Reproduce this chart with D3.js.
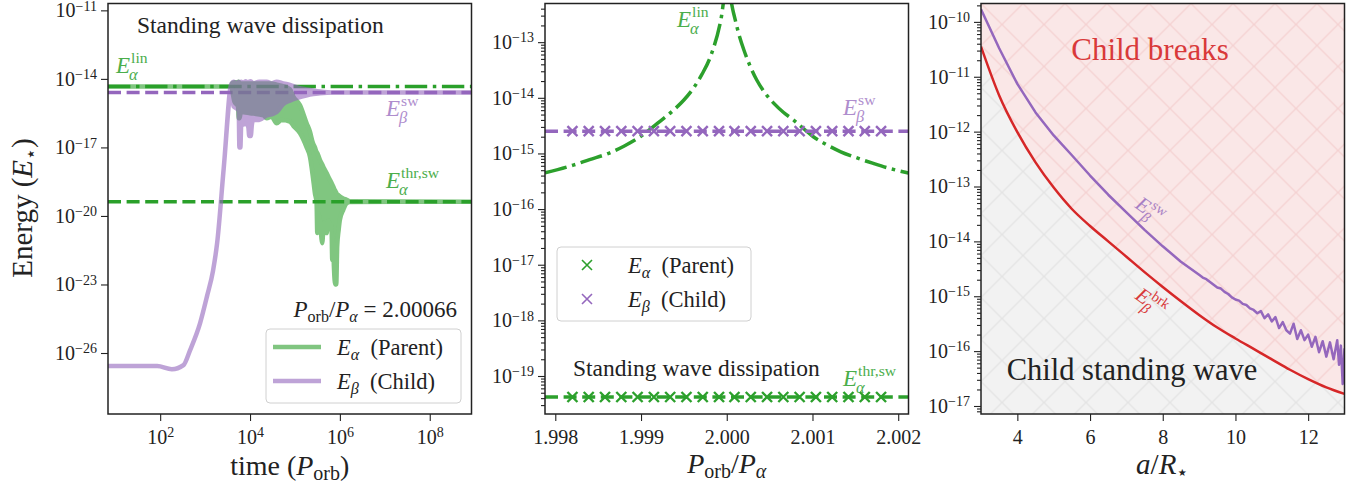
<!DOCTYPE html>
<html>
<head>
<meta charset="utf-8">
<script src="https://cdn.jsdelivr.net/npm/d3@7"></script>
<style>
  body { margin: 0; background: #fff; }
  svg text { font-family: "Liberation Serif", "DejaVu Serif", serif; }
</style>
</head>
<body>
<svg id="chart"></svg>
<script>
// ---- values (energies as log10 E) ----
// panel 1 : time series, rows = [t, upper, lower]
const timeTicks = [1e2, 1e4, 1e6, 1e8];
const energyTicks1 = [1e-26, 1e-23, 1e-20, 1e-17, 1e-14, 1e-11];
const childBand = [
  [6.9, -26.57, -26.57], [86, -26.57, -26.57], [182, -26.71, -26.71], [330, -26.53, -26.53],
  [464, -25.87, -25.87], [774, -24.69, -24.69], [1108, -23.5, -23.5], [1500, -22.4, -22.4],
  [1850, -21.2, -21.2], [2600, -17.9, -17.9], [3900, -14.2, -14.2],
  [4270, -14.12, -15.2], [5060, -14.2, -15.3], [5600, -14.12, -15.4], [5800, -14.2, -17.0],
  [6100, -14.15, -17.0], [6400, -14.12, -15.9], [6900, -14.2, -16.0], [8000, -14.1, -15.95],
  [9150, -14.2, -16.1], [9600, -14.12, -16.5], [10400, -14.1, -16.5], [11000, -14.15, -16.0],
  [11800, -14.2, -15.8], [16000, -14.12, -15.8], [23500, -14.12, -15.6], [30000, -14.2, -15.55],
  [39200, -14.12, -15.45], [55000, -14.2, -15.1], [77400, -14.26, -14.95], [129000, -14.41, -14.8],
  [215000, -14.48, -14.68], [359000, -14.55, -14.63], [710000, -14.6, -14.6], [8.5e8, -14.6, -14.6]
];
const parentBand = [
  [6.9, -14.337, -14.337], [3900, -14.337, -14.337], [3950, -14.2, -14.4], [4500, -14.15, -15.0],
  [5400, -14.15, -15.2], [5600, -14.12, -15.72], [5900, -14.2, -15.72], [6200, -14.2, -15.45],
  [10000, -14.2, -15.5], [20000, -14.2, -15.6], [23500, -14.2, -15.72], [30000, -14.2, -15.65],
  [39200, -14.25, -15.94], [50000, -14.3, -15.8], [77400, -14.45, -15.87], [91800, -14.77, -16.05],
  [129000, -15.14, -16.37], [182000, -15.94, -17.0], [215000, -16.3, -17.4], [251000, -16.81, -18.3],
  [278000, -17.0, -19.0], [303000, -17.2, -19.43], [314000, -17.25, -20.75], [330000, -17.35, -19.9],
  [359000, -17.54, -20.2], [405000, -17.75, -21.19], [440000, -17.9, -20.3], [506000, -18.12, -20.75],
  [560000, -18.3, -20.2], [600000, -18.42, -20.5], [650000, -18.55, -20.4], [676000, -18.62, -21.92],
  [710000, -18.71, -21.2], [736000, -18.78, -22.2], [790000, -18.9, -23.0], [830000, -18.98, -23.0],
  [871000, -19.05, -21.33], [940000, -19.1, -20.6], [1e6, -19.15, -20.17], [1.19e6, -19.24, -19.73],
  [1.41e6, -19.29, -19.45], [1.66e6, -19.36, -19.39], [8.5e8, -19.377, -19.377]
];
const logElin = -14.337, logEsw = -14.6, logEthr = -19.377;

// panel 2 : scan in P_orb / P_alpha
const ratioTicks = [1.998, 1.999, 2.000, 2.001, 2.002];
const energyTicks2 = [1e-19, 1e-18, 1e-17, 1e-16, 1e-15, 1e-14, 1e-13];
const ratioRuns = [1.9982, 1.99839, 1.99858, 1.99877, 1.99896, 1.99915, 1.99934, 1.99953, 1.99972, 1.99991,
  2.00009, 2.00028, 2.00047, 2.00066, 2.00085, 2.00104, 2.00123, 2.00142, 2.00161, 2.0018];
const linCurve = [
  [1.99788, -15.35], [1.99821, -15.21], [1.99840, -15.11], [1.99860, -15.01], [1.99880, -14.87],
  [1.99899, -14.70], [1.99919, -14.46], [1.99938, -14.22], [1.99950, -14.04], [1.99961, -13.83],
  [1.99971, -13.58], [1.99981, -13.26], [1.99993, -12.61], [2.00000, -12.0], [2.00008, -12.48],
  [2.00014, -12.85], [2.00020, -13.14], [2.00027, -13.42], [2.00035, -13.68], [2.00045, -13.92],
  [2.00055, -14.10], [2.00066, -14.26], [2.00078, -14.40], [2.00090, -14.56], [2.00101, -14.70],
  [2.00115, -14.83], [2.00133, -14.97], [2.00150, -15.07], [2.00171, -15.18], [2.00190, -15.27],
  [2.00212, -15.35]
];

// panel 3 : separation a / R*
const sepTicks = [4, 6, 8, 10, 12];
const energyTicks3 = [1e-17, 1e-16, 1e-15, 1e-14, 1e-13, 1e-12, 1e-11, 1e-10];
const breakCurve = [
  [3.0, -10.45], [3.5, -11.34], [4.0, -12.01], [4.5, -12.56], [5.0, -13.02], [5.5, -13.41],
  [6.0, -13.72], [6.5, -14.00], [7.0, -14.28], [7.5, -14.56], [8.0, -14.83], [8.5, -15.09],
  [9.0, -15.34], [9.5, -15.57], [10.0, -15.77], [10.5, -15.96], [11.0, -16.15], [11.5, -16.34],
  [12.0, -16.51], [12.5, -16.66], [13.0, -16.78]
];
const swCurve = [
  [3.0, -9.77], [3.5, -10.48], [4.0, -11.13], [4.5, -11.65], [5.0, -12.07], [5.5, -12.43],
  [6.0, -12.80], [6.5, -13.15], [7.0, -13.47], [7.5, -13.79], [8.0, -14.09], [8.5, -14.37],
  [9.0, -14.61], [9.1, -14.66], [9.2, -14.69], [9.3, -14.74], [9.4, -14.79], [9.5, -14.84],
  [9.6, -14.86], [9.7, -14.92], [9.8, -14.96], [9.9, -15.02], [10.0, -15.06], [10.1, -15.08],
  [10.2, -15.14], [10.3, -15.16], [10.4, -15.22], [10.5, -15.25], [10.6, -15.31], [10.7, -15.27],
  [10.8, -15.40], [10.9, -15.33], [11.0, -15.46], [11.1, -15.38], [11.2, -15.58], [11.3, -15.47],
  [11.4, -15.62], [11.5, -15.68], [11.6, -15.50], [11.7, -15.78], [11.8, -15.62], [11.9, -15.80],
  [12.0, -15.70], [12.1, -15.92], [12.2, -15.74], [12.3, -16.02], [12.4, -15.82], [12.5, -16.10],
  [12.6, -15.84], [12.7, -16.15], [12.8, -15.80], [12.85, -16.25], [12.9, -15.90], [12.95, -16.60],
  [13.0, -15.95]
];

// ---- layout ----
const width = 1369, height = 491;
const green = "#2ca02c", purple = "#9467bd", red = "#d62728", ink = "#222";
const pTop = 3.5, pH = 410.5, pW = 363.5;
const lefts = [108, 545, 981];
const dashed = "13,5.6", dashdot = "22.4,5.6,3.5,5.6";

const svg = d3.select("#chart").attr("width", width).attr("height", height);
const defs = svg.append("defs");

function makePanel(left, id) {
  defs.append("clipPath").attr("id", id).append("rect").attr("width", pW).attr("height", pH);
  const g = svg.append("g").attr("transform", `translate(${left},${pTop})`);
  const plot = g.append("g").attr("clip-path", `url(#${id})`);
  return { g, plot };
}

function minorLog(scale) {
  const [lo, hi] = scale.domain();
  const out = [];
  for (let e = Math.floor(Math.log10(lo)); e <= Math.ceil(Math.log10(hi)); e++)
    for (let m = 2; m < 10; m++) { const v = m * 10 ** e; if (v > lo && v < hi) out.push(v); }
  return out;
}

function styleAxis(ax) {
  ax.select(".domain").remove();
  ax.attr("font-family", null).attr("font-size", 20);
  ax.selectAll(".tick line").attr("stroke", ink).attr("stroke-width", 1.1);
  ax.selectAll(".tick text").attr("fill", ink);
}

function powLabels(ax) {
  ax.selectAll(".tick text").each(function (d) {
    const t = d3.select(this).text(null);
    const e = Math.round(Math.log10(d));
    t.append("tspan").text("10");
    t.append("tspan").attr("dy", "-0.48em").attr("font-size", 14).text(e < 0 ? "\u2212" + (-e) : String(e));
  });
}

function yAxis(g, y, ticks, minor) {
  if (minor) {
    const m = g.append("g").call(d3.axisLeft(y).tickValues(minorLog(y)).tickSize(4).tickFormat(""));
    styleAxis(m);
  }
  const ax = g.append("g").call(d3.axisLeft(y).tickValues(ticks).tickSize(7).tickPadding(4).tickFormat(() => ""));
  styleAxis(ax);
  powLabels(ax);
}

function frame(g) {
  g.append("rect").attr("width", pW).attr("height", pH)
    .attr("fill", "none").attr("stroke", ink).attr("stroke-width", 1.5);
}

// italic E with sub / superscripts
function mathE(x, y, sub, sup, color, opts = {}) {
  const size = opts.size || 23;
  const g = svg.append("g")
    .attr("transform", `translate(${x},${y}) rotate(${opts.rotate || 0})`)
    .attr("fill", color).attr("opacity", opts.opacity == null ? 1 : opts.opacity);
  const e = g.append("text").attr("font-style", "italic").attr("font-size", size).text("E");
  const w = e.node().getComputedTextLength();
  if (sup) g.append("text").attr("x", w + 1).attr("y", -size * 0.42).attr("font-size", size * 0.68).text(sup);
  if (sub) g.append("text").attr("x", w - 1).attr("y", size * 0.32).attr("font-size", size * 0.72)
    .attr("font-style", "italic").text(sub);
  return g;
}

function legendEntry(x, y, sub, name, size) {
  const t = svg.append("text").attr("x", x).attr("y", y).attr("font-size", size).attr("fill", ink);
  t.append("tspan").attr("font-style", "italic").text("E");
  t.append("tspan").attr("font-style", "italic").attr("font-size", size * 0.72).attr("dy", 5).text(sub);
  t.append("tspan").attr("dy", -5).text("\u2002(" + name + ")");
}

const cross = "M-5,-5L5,5M-5,5L5,-5";

// ================= panel 1 =================
{
  const { g, plot } = makePanel(lefts[0], "clip1");
  const x = d3.scaleLog().domain([6.9, 8.5e8]).range([0, pW]);
  const y = d3.scaleLog().domain([10 ** -28.67, 10 ** -10.70]).range([pH, 0]);

  // reference levels
  [[logElin, green, dashdot], [logEsw, purple, dashed], [logEthr, green, dashed]].forEach(([v, c, d]) => {
    plot.append("line").attr("x1", 0).attr("x2", pW).attr("y1", y(10 ** v)).attr("y2", y(10 ** v))
      .attr("stroke", c).attr("stroke-width", 3.5).attr("stroke-dasharray", d);
  });

  const band = d3.area().curve(d3.curveMonotoneX)
    .x(d => x(d[0])).y0(d => y(10 ** d[2])).y1(d => y(10 ** d[1]));
  [[parentBand, green], [childBand, purple]].forEach(([rows, c]) => {
    plot.append("g").attr("opacity", 0.6).append("path").attr("d", band(rows))
      .attr("fill", c).attr("stroke", c).attr("stroke-width", 4.5).attr("stroke-linejoin", "round");
  });

  const xa = g.append("g").attr("transform", `translate(0,${pH})`)
    .call(d3.axisBottom(x).tickValues(timeTicks).tickSize(7).tickPadding(9).tickFormat(() => ""));
  styleAxis(xa);
  powLabels(xa);
  yAxis(g, y, energyTicks1, false);
  frame(g);
}

// ================= panel 2 =================
{
  const { g, plot } = makePanel(lefts[1], "clip2");
  const x = d3.scaleLinear().domain([1.99788, 2.00212]).range([0, pW]);
  const y = d3.scaleLog().domain([10 ** -19.683, 10 ** -12.305]).range([pH, 0]);

  plot.append("path").attr("d", d3.line().curve(d3.curveMonotoneX).x(d => x(d[0])).y(d => y(10 ** d[1]))(linCurve))
    .attr("fill", "none").attr("stroke", green).attr("stroke-width", 3.5).attr("stroke-dasharray", dashdot);
  [[logEsw, purple], [logEthr, green]].forEach(([v, c]) => {
    plot.append("line").attr("x1", 0).attr("x2", pW).attr("y1", y(10 ** v)).attr("y2", y(10 ** v))
      .attr("stroke", c).attr("stroke-width", 3.5).attr("stroke-dasharray", dashed);
    plot.selectAll(null).data(ratioRuns).enter().append("path")
      .attr("transform", d => `translate(${x(d)},${y(10 ** v)})`).attr("d", cross)
      .attr("stroke", c).attr("stroke-width", 2.4).attr("fill", "none");
  });

  const xa = g.append("g").attr("transform", `translate(0,${pH})`)
    .call(d3.axisBottom(x).tickValues(ratioTicks).tickSize(7).tickPadding(9).tickFormat(d3.format(".3f")));
  styleAxis(xa);
  yAxis(g, y, energyTicks2, true);
  frame(g);
}

// ================= panel 3 =================
{
  const { g, plot } = makePanel(lefts[2], "clip3");
  const x = d3.scaleLinear().domain([3, 13]).range([0, pW]);
  const y = d3.scaleLog().domain([10 ** -17.146, 10 ** -9.665]).range([pH, 0]);

  const hatch = (id, bg, fg) => {
    const p = defs.append("pattern").attr("id", id).attr("patternUnits", "userSpaceOnUse")
      .attr("width", 42).attr("height", 42);
    p.append("rect").attr("width", 42).attr("height", 42).attr("fill", bg);
    p.append("path").attr("d", "M0,0L42,42M42,0L0,42").attr("stroke", fg).attr("stroke-width", 1.3);
  };
  hatch("hatchGrey", "#f2f2f2", "#e4e4e4");
  hatch("hatchPink", "#fae7e7", "#f5d2d2");

  const ax = d => x(d[0]), ay = d => y(10 ** d[1]);
  plot.append("path").attr("d", d3.area().curve(d3.curveMonotoneX).x(ax).y0(pH).y1(ay)(breakCurve))
    .attr("fill", "url(#hatchGrey)");
  plot.append("path").attr("d", d3.area().curve(d3.curveMonotoneX).x(ax).y0(0).y1(ay)(breakCurve))
    .attr("fill", "url(#hatchPink)");
  plot.append("path").attr("d", d3.line().curve(d3.curveMonotoneX).x(ax).y(ay)(breakCurve))
    .attr("fill", "none").attr("stroke", red).attr("stroke-width", 2.5);
  plot.append("path").attr("d", d3.line().x(ax).y(ay)(swCurve))
    .attr("fill", "none").attr("stroke", purple).attr("stroke-width", 2.5).attr("stroke-linejoin", "round");

  const xa = g.append("g").attr("transform", `translate(0,${pH})`)
    .call(d3.axisBottom(x).tickValues(sepTicks).tickSize(7).tickPadding(9).tickFormat(d3.format("d")));
  styleAxis(xa);
  yAxis(g, y, energyTicks3, true);
  frame(g);
}

// ---- annotations ----
svg.append("text").attr("x", 137).attr("y", 33).attr("font-size", 23.5).attr("fill", ink).text("Standing wave dissipation");
svg.append("text").attr("x", 573).attr("y", 376).attr("font-size", 23.5).attr("fill", ink).text("Standing wave dissipation");
svg.append("text").attr("x", 1150).attr("y", 60).attr("font-size", 31).attr("fill", red).attr("opacity", 0.9)
  .attr("text-anchor", "middle").text("Child breaks");
svg.append("text").attr("x", 1132).attr("y", 380).attr("font-size", 30.5).attr("fill", ink)
  .attr("text-anchor", "middle").text("Child standing wave");

mathE(116, 73, "\u03b1", "lin", green, { opacity: 0.85 });
mathE(386, 116, "\u03b2", "sw", purple, { opacity: 0.75 });
mathE(386, 188, "\u03b1", "thr,sw", green, { opacity: 0.85 });
mathE(677, 27, "\u03b1", "lin", green, { opacity: 0.85 });
mathE(843, 115, "\u03b2", "sw", purple, { opacity: 0.75 });
mathE(843, 386, "\u03b1", "thr,sw", green, { opacity: 0.85 });
mathE(1134, 207, "\u03b2", "sw", purple, { opacity: 0.8, rotate: 35, size: 21 });
mathE(1134, 298, "\u03b2", "brk", red, { opacity: 0.9, rotate: 35, size: 21 });

// P_orb / P_alpha = 2.00066
{
  const t = svg.append("text").attr("x", 457).attr("y", 317).attr("font-size", 23)
    .attr("text-anchor", "end").attr("fill", ink);
  t.append("tspan").attr("font-style", "italic").text("P");
  t.append("tspan").attr("font-size", 16).attr("dy", 5).text("orb");
  t.append("tspan").attr("dy", -5).text("/");
  t.append("tspan").attr("font-style", "italic").text("P");
  t.append("tspan").attr("font-style", "italic").attr("font-size", 16).attr("dy", 5).text("\u03b1");
  t.append("tspan").attr("dy", -5).text(" = 2.00066");
}

// legends
svg.append("rect").attr("x", 266).attr("y", 329).attr("width", 195).attr("height", 74).attr("rx", 4)
  .attr("fill", "#fff").attr("fill-opacity", 0.8).attr("stroke", "#d0d0d0");
[[347, green], [381, purple]].forEach(([yy, c]) => {
  svg.append("line").attr("x1", 273).attr("x2", 321).attr("y1", yy).attr("y2", yy)
    .attr("stroke", c).attr("stroke-width", 4.5).attr("opacity", 0.6);
});
legendEntry(337, 355, "\u03b1", "Parent", 22.5);
legendEntry(337, 389, "\u03b2", "Child", 22.5);

svg.append("rect").attr("x", 557).attr("y", 247).attr("width", 194).attr("height", 74).attr("rx", 4)
  .attr("fill", "#fff").attr("fill-opacity", 0.8).attr("stroke", "#d0d0d0");
[[265, green], [299, purple]].forEach(([yy, c]) => {
  svg.append("path").attr("transform", `translate(587,${yy})`).attr("d", cross)
    .attr("stroke", c).attr("stroke-width", 1.6).attr("fill", "none");
});
legendEntry(628, 273, "\u03b1", "Parent", 22.5);
legendEntry(628, 307, "\u03b2", "Child", 22.5);

// axis titles
{
  const t = svg.append("text").attr("transform", "translate(32,208) rotate(-90)").attr("font-size", 29)
    .attr("text-anchor", "middle").attr("fill", ink);
  t.append("tspan").text("Energy (");
  t.append("tspan").attr("font-style", "italic").text("E");
  t.append("tspan").attr("font-size", 19).attr("dy", 5).text("\u22c6");
  t.append("tspan").attr("dy", -5).text(")");
}
{
  const t = svg.append("text").attr("x", lefts[0] + pW / 2).attr("y", 475).attr("font-size", 28)
    .attr("text-anchor", "middle").attr("fill", ink);
  t.append("tspan").text("time (");
  t.append("tspan").attr("font-style", "italic").text("P");
  t.append("tspan").attr("font-size", 20).attr("dy", 5).text("orb");
  t.append("tspan").attr("dy", -5).text(")");
}
{
  const t = svg.append("text").attr("x", lefts[1] + pW / 2).attr("y", 473).attr("font-size", 28)
    .attr("text-anchor", "middle").attr("fill", ink);
  t.append("tspan").attr("font-style", "italic").text("P");
  t.append("tspan").attr("font-size", 20).attr("dy", 5).text("orb");
  t.append("tspan").attr("dy", -5).text("/");
  t.append("tspan").attr("font-style", "italic").text("P");
  t.append("tspan").attr("font-style", "italic").attr("font-size", 20).attr("dy", 5).text("\u03b1");
}
{
  const t = svg.append("text").attr("x", lefts[2] + pW / 2).attr("y", 474).attr("font-size", 29)
    .attr("text-anchor", "middle").attr("fill", ink);
  t.append("tspan").attr("font-style", "italic").text("a");
  t.append("tspan").text("/");
  t.append("tspan").attr("font-style", "italic").text("R");
  t.append("tspan").attr("font-size", 20).attr("dy", 5).text("\u22c6");
}
</script>
</body>
</html>
